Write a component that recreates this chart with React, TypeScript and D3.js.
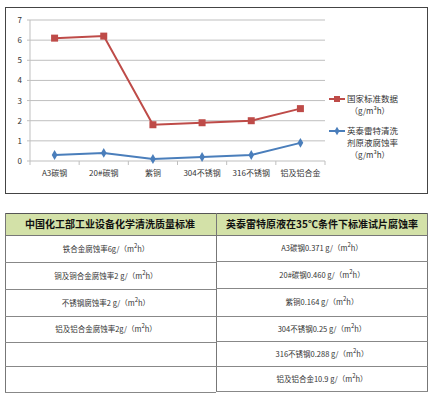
import React from "react";
import * as d3 from "d3";

const categories = ["A3碳钢", "20#碳钢", "紫铜", "304不锈钢", "316不锈钢", "铝及铝合金"];
const nationalStandard = [6.1, 6.2, 1.8, 1.9, 2.0, 2.6];
const yingtaiRate = [0.3, 0.4, 0.1, 0.2, 0.3, 0.9];
const yTicks = [0, 1, 2, 3, 4, 5, 6, 7];

const tableHeaderLeft = "中国化工部工业设备化学清洗质量标准";
const tableHeaderRight = "英泰雷特原液在35℃条件下标准试片腐蚀率";
const leftRows = ["铁合金腐蚀率6g/（m", "铜及铜合金腐蚀率2 g/（m", "不锈钢腐蚀率2 g/（m", "铝及铝合金腐蚀率2g/（m", "", ""];
const rightRows = ["A3碳钢0.371 g/（m", "20#碳钢0.460 g/（m", "紫铜0.164 g/（m", "304不锈钢0.25 g/（m", "316不锈钢0.288 g/（m", "铝及铝合金10.9 g/（m"];

const RED = "#be4b48";
const BLUE = "#4a7ebb";
const FONT = "'Noto Sans CJK SC', 'Noto Sans', sans-serif";

export default function App() {
  const W = 434, H = 398;
  const x = d3.scaleBand<string>().domain(categories).range([30, 325]);
  const y = d3.scaleLinear().domain([0, 7]).range([161, 20]);
  const cx = (c: string) => (x(c) ?? 0) + x.bandwidth() / 2;
  const line = d3.line<number>().x((_, i) => cx(categories[i])).y((v) => y(v));

  const tableTop = 213, headerBottom = 235;
  const rowLinesLeft = [262, 289, 316, 342, 366, 392];
  const rowLinesRight = [261, 288, 316, 341, 366, 391];
  const tL = 5, tM = 216, tR = 428;

  const rowText = (s: string, xc: number, y0: number, y1: number, key: string) =>
    s ? (
      <text key={key} x={xc} y={(y0 + y1) / 2 + 3} textAnchor="middle" fontSize={7.5} fill="#333" fontFamily={FONT}>
        {s}
        <tspan dy={-4} fontSize={6}>2</tspan>
        <tspan dy={4}>h）</tspan>
      </text>
    ) : null;

  return (
    <svg width={W} height={H} style={{ position: "absolute", left: 0, top: 0, background: "#fff" }}>
      {/* chart border */}
      <rect x={5.5} y={7.5} width={422} height={186} fill="#fff" stroke="#444" strokeWidth={1} />
      {/* gridlines */}
      {yTicks.map((t) => (
        <line key={t} x1={30} x2={325} y1={y(t)} y2={y(t)} stroke="#bfbfbf" strokeWidth={1} />
      ))}
      {/* y axis */}
      <line x1={30} x2={30} y1={y(7)} y2={y(0)} stroke="#bfbfbf" />
      {yTicks.map((t) => (
        <g key={"yt" + t}>
          <line x1={27} x2={30} y1={y(t)} y2={y(t)} stroke="#bfbfbf" />
          <text x={22} y={y(t) + 3} textAnchor="end" fontSize={8} fill="#333" fontFamily={FONT}>{t}</text>
        </g>
      ))}
      {/* x axis ticks */}
      {categories.map((c, i) => (
        <line key={"xt" + i} x1={(x(c) ?? 0)} x2={(x(c) ?? 0)} y1={y(0)} y2={y(0) + 4} stroke="#bfbfbf" />
      ))}
      <line x1={325} x2={325} y1={y(0)} y2={y(0) + 4} stroke="#bfbfbf" />
      {categories.map((c) => (
        <text key={"xl" + c} x={cx(c)} y={176} textAnchor="middle" fontSize={8} fill="#333" fontFamily={FONT}>{c}</text>
      ))}
      {/* series */}
      <path d={line(nationalStandard) ?? ""} fill="none" stroke={RED} strokeWidth={2} />
      {nationalStandard.map((v, i) => (
        <rect key={"r" + i} x={cx(categories[i]) - 3.5} y={y(v) - 3.5} width={7} height={7} fill={RED} />
      ))}
      <path d={line(yingtaiRate) ?? ""} fill="none" stroke={BLUE} strokeWidth={2} />
      {yingtaiRate.map((v, i) => (
        <path key={"b" + i} d={d3.symbol(d3.symbolDiamond, 28)() ?? ""} transform={`translate(${cx(categories[i])},${y(v)})`} fill={BLUE} />
      ))}
      {/* legend */}
      <line x1={329} x2={345} y1={99} y2={99} stroke={RED} strokeWidth={2} />
      <rect x={334} y={96} width={6} height={6} fill={RED} />
      <text x={347} y={102} fontSize={8.5} fill="#333" fontFamily={FONT}>国家标准数据</text>
      <text x={350} y={114} fontSize={8} fill="#333" fontFamily={FONT}>（g/m³h）</text>
      <line x1={329} x2={345} y1={131} y2={131} stroke={BLUE} strokeWidth={2} />
      <path d={d3.symbol(d3.symbolDiamond, 22)() ?? ""} transform="translate(337,131)" fill={BLUE} />
      <text x={347} y={134} fontSize={8.5} fill="#333" fontFamily={FONT}>英泰雷特清洗</text>
      <text x={347} y={146} fontSize={8.5} fill="#333" fontFamily={FONT}>剂原液腐蚀率</text>
      <text x={350} y={158} fontSize={8} fill="#333" fontFamily={FONT}>（g/m³h）</text>

      {/* table */}
      <rect x={tL} y={tableTop} width={tR - tL} height={headerBottom - tableTop} fill="#d3e1a8" />
      <line x1={tL} x2={tR} y1={tableTop + 0.5} y2={tableTop + 0.5} stroke="#555" />
      <line x1={tL} x2={tR} y1={headerBottom + 0.5} y2={headerBottom + 0.5} stroke="#777" />
      <line x1={tL + 0.5} x2={tL + 0.5} y1={tableTop} y2={392} stroke="#777" />
      <line x1={tM + 0.5} x2={tM + 0.5} y1={tableTop} y2={392} stroke="#777" />
      <line x1={tR - 0.5} x2={tR - 0.5} y1={tableTop} y2={392} stroke="#777" />
      {rowLinesLeft.map((ly, i) => (
        <line key={"ll" + i} x1={tL} x2={tM} y1={ly + 0.5} y2={ly + 0.5} stroke="#888" />
      ))}
      {rowLinesRight.map((ly, i) => (
        <line key={"rl" + i} x1={tM} x2={tR} y1={ly + 0.5} y2={ly + 0.5} stroke="#888" />
      ))}
      <text x={110} y={228} textAnchor="middle" fontSize={10} fontWeight="bold" fill="#111" fontFamily={FONT}>{tableHeaderLeft}</text>
      <text x={322} y={228} textAnchor="middle" fontSize={10} fontWeight="bold" fill="#111" fontFamily={FONT}>{tableHeaderRight}</text>
      {leftRows.map((s, i) => rowText(s, 106, i === 0 ? headerBottom : rowLinesLeft[i - 1], rowLinesLeft[i], "lt" + i))}
      {rightRows.map((s, i) => rowText(s, 322, i === 0 ? headerBottom : rowLinesRight[i - 1], rowLinesRight[i], "rt" + i))}
    </svg>
  );
}
